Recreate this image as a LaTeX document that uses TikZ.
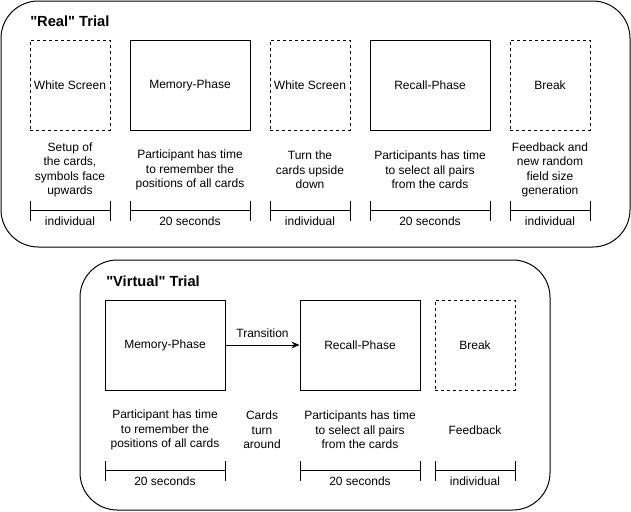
\documentclass[tikz,border=0pt]{standalone}
\usepackage{fontspec}
\setmainfont{Liberation Sans}
\usetikzlibrary{arrows.meta,positioning,calc}

\tikzset{
  frame/.style={draw,line width=0.75pt,rounded corners=28pt},
  phase/.style={draw,line width=0.75pt,minimum width=90pt,minimum height=67.5pt,inner sep=0pt},
  blank/.style={phase,dash pattern=on 2.25pt off 2.25pt,minimum width=60pt},
  trialname/.style={anchor=west,font=\fontsize{11}{13}\selectfont\bfseries,inner sep=0pt},
  desc/.style={align=center,inner sep=0pt},
  dur/.style={line width=0.75pt,{Bar[width=15pt]}-{Bar[width=15pt]}},
  durtext/.style={inner sep=0pt}
}

\begin{document}
\begin{tikzpicture}[x=0.75pt,y=-0.75pt,font=\fontsize{9}{10.9}\selectfont]
    \useasboundingbox (0,0) rectangle (631,511);
    % "Real" trial
    \draw[frame] (1,1) rectangle (630,247);
    \node[trialname] (realT) at (30,21) {\textquotedbl Real\textquotedbl{} Trial};
    \node[blank] (ws1) at (70,85) {White Screen};
    \node[phase] (mem1) at (190,85) {Memory-Phase};
    \node[blank] (ws2) at (310,85) {White Screen};
    \node[phase] (rec1) at (430,85) {Recall-Phase};
    \node[blank] (brk1) at (550,85) {Break};
    \node[desc] (ws1d) at (70,170) {Setup of\\the cards,\\symbols face\\upwards};
    \node[desc] (mem1d) at (190,170) {Participant has time\\to remember the\\positions of all cards};
    \node[desc] (ws2d) at (310,170) {Turn the\\cards upside\\down};
    \node[desc] (rec1d) at (430,170) {Participants has time\\to select all pairs\\from the cards};
    \node[desc] (brk1d) at (550,170) {Feedback and\\new random\\field size\\generation};

    % "Virtual" trial
    \draw[frame] (80,260) rectangle (550,510);
    \node[trialname] (virtT) at (106,281) {\textquotedbl Virtual\textquotedbl{} Trial};
    \node[phase] (mem2) at (165,345) {Memory-Phase};
    \node[phase] (rec2) at (360,345) {Recall-Phase};
    \node[blank] (brk2) at (475,345) {Break};
    \draw[line width=0.75pt,-{Stealth[length=6pt,width=5pt]}] (mem2) -- (rec2)
        node[midway,above=5pt,inner sep=0pt] (trans) {Transition};
    \node[desc] (mem2d) at (165,430) {Participant has time\\to remember the\\positions of all cards};
    \node[desc] (turn) at (262,430) {Cards\\turn\\around};
    \node[desc] (rec2d) at (360,430) {Participants has time\\to select all pairs\\from the cards};
    \node[desc] (brk2d) at (475,430) {Feedback};

    % durations
    \foreach \n/\t in {ws1/individual,mem1/20 seconds,ws2/individual,rec1/20 seconds,brk1/individual,
                       mem2/20 seconds,rec2/20 seconds,brk2/individual}{
        \path (\n.south west) ++(0,80) coordinate (\n l);
        \path (\n.south east) ++(0,80) coordinate (\n r);
        \draw[dur] (\n l) -- (\n r);
        \node[durtext] (\n t) at ($(\n l)!.5!(\n r)+(0,11)$) {\t};
    }
\end{tikzpicture}
\end{document}
